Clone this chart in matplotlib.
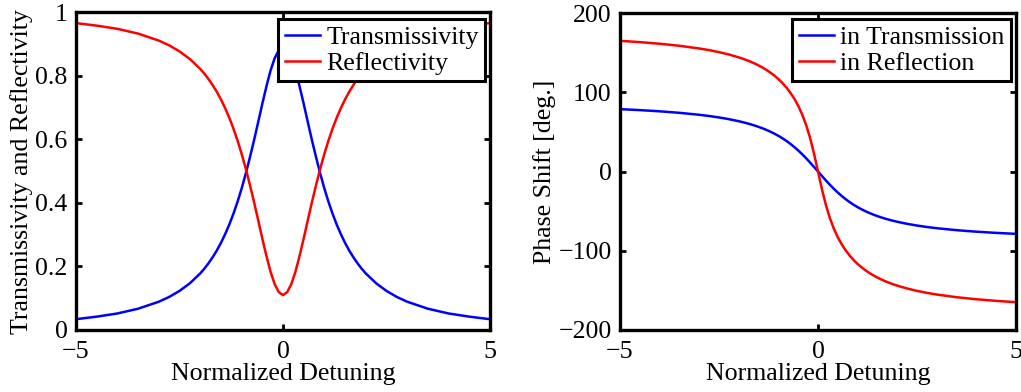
import matplotlib
matplotlib.use("Agg")
import matplotlib.pyplot as plt
from matplotlib.ticker import FuncFormatter

plt.rcParams['font.family'] = ['Liberation Serif', 'DejaVu Serif']

# Normalized detuning positions
detuning = [-5, -4.5, -4, -3.5, -3, -2.75, -2.5, -2.25,
            -2.0, -1.9, -1.8, -1.7, -1.6, -1.5, -1.4, -1.3, -1.2, -1.1,
            -1.0, -0.9, -0.8, -0.7, -0.6, -0.5, -0.4, -0.3, -0.2, -0.1,
            0.0,
            0.1, 0.2, 0.3, 0.4, 0.5, 0.6, 0.7, 0.8, 0.9, 1.0,
            1.1, 1.2, 1.3, 1.4, 1.5, 1.6, 1.7, 1.8, 1.9, 2.0,
            2.25, 2.5, 2.75, 3, 3.5, 4, 4.5, 5]

transmissivity = [0.034, 0.042, 0.052, 0.067, 0.089, 0.104, 0.123, 0.147,
                  0.178, 0.193, 0.210, 0.229, 0.250, 0.274, 0.301, 0.331, 0.365, 0.403,
                  0.445, 0.492, 0.543, 0.597, 0.654, 0.712, 0.767, 0.817, 0.856, 0.881,
                  0.890,
                  0.881, 0.856, 0.817, 0.767, 0.712, 0.654, 0.597, 0.543, 0.492, 0.445,
                  0.403, 0.365, 0.331, 0.301, 0.274, 0.250, 0.229, 0.210, 0.193, 0.178,
                  0.147, 0.123, 0.104, 0.089, 0.067, 0.052, 0.042, 0.034]

reflectivity = [0.966, 0.958, 0.948, 0.933, 0.911, 0.896, 0.877, 0.853,
                0.822, 0.807, 0.790, 0.771, 0.750, 0.726, 0.699, 0.669, 0.635, 0.597,
                0.555, 0.508, 0.457, 0.403, 0.346, 0.288, 0.233, 0.183, 0.144, 0.119,
                0.110,
                0.119, 0.144, 0.183, 0.233, 0.288, 0.346, 0.403, 0.457, 0.508, 0.555,
                0.597, 0.635, 0.669, 0.699, 0.726, 0.750, 0.771, 0.790, 0.807, 0.822,
                0.853, 0.877, 0.896, 0.911, 0.933, 0.948, 0.958, 0.966]

phase_transmission = [78.69, 77.47, 75.96, 74.05, 71.57, 70.02, 68.20, 66.04,
                      63.43, 62.24, 60.95, 59.53, 57.99, 56.31, 54.46, 52.43, 50.19, 47.73,
                      45.00, 41.99, 38.66, 34.99, 30.96, 26.57, 21.80, 16.70, 11.31, 5.71,
                      0.0,
                      -5.71, -11.31, -16.70, -21.80, -26.57, -30.96, -34.99, -38.66, -41.99, -45.00,
                      -47.73, -50.19, -52.43, -54.46, -56.31, -57.99, -59.53, -60.95, -62.24, -63.43,
                      -66.04, -68.20, -70.02, -71.57, -74.05, -75.96, -77.47, -78.69]

phase_reflection = [164.89, 163.25, 161.22, 158.63, 155.25, 153.14, 150.64, 147.64,
                    144.01, 142.33, 140.50, 138.48, 136.27, 133.83, 131.12, 128.10, 124.72, 120.94,
                    116.63, 111.74, 106.12, 99.61, 92.00, 82.99, 72.10, 58.80, 42.37, 22.48,
                    0.0,
                    -22.48, -42.37, -58.80, -72.10, -82.99, -92.00, -99.61, -106.12, -111.74, -116.63,
                    -120.94, -124.72, -128.10, -131.12, -133.83, -136.27, -138.48, -140.50, -142.33, -144.01,
                    -147.64, -150.64, -153.14, -155.25, -158.63, -161.22, -163.25, -164.89]

left_labels = ['Transmissivity', 'Reflectivity']
right_labels = ['in Transmission', 'in Reflection']

FS = 18.6
LW = 1.8
SPINE = 2.4


def signed(v, p):
    return ('\u2212%g' % -v) if v < 0 else '%g' % v


fig = plt.figure(figsize=(10.21, 3.92), dpi=100)
ax1 = fig.add_axes([76/1021, 62/392, 414/1021, 317.7/392])
ax2 = fig.add_axes([620/1021, 62/392, 396/1021, 317/392])


def style(ax):
    for s in ax.spines.values():
        s.set_linewidth(SPINE)
        s.set_color('black')
    ax.tick_params(direction='in', length=4, width=2, top=True, right=True,
                   labelsize=FS, pad=6)
    ax.tick_params(axis='x', pad=8)
    ax.set_xticks([-5, 0, 5])
    ax.set_xlim(-5, 5)
    ax.xaxis.set_major_formatter(FuncFormatter(signed))
    ax.set_xlabel('Normalized Detuning', fontsize=FS, labelpad=0)


ax1.plot(detuning, transmissivity, color='#0000ff', lw=LW, label=left_labels[0])
ax1.plot(detuning, reflectivity, color='#ff0000', lw=LW, label=left_labels[1])
style(ax1)
ax1.set_ylim(0, 1)
ax1.set_yticks([0, 0.2, 0.4, 0.6, 0.8, 1])
ax1.yaxis.set_major_formatter(FuncFormatter(lambda v, p: '%g' % v))
ax1.set_ylabel('Transmissivity and Reflectivity', fontsize=FS, labelpad=2)

ax2.plot(detuning, phase_transmission, color='#0000ff', lw=LW, label=right_labels[0])
ax2.plot(detuning, phase_reflection, color='#ff0000', lw=LW, label=right_labels[1])
style(ax2)
ax2.set_ylim(-200, 200)
ax2.set_yticks([-200, -100, 0, 100, 200])
ax2.yaxis.set_major_formatter(FuncFormatter(signed))
ax2.set_ylabel('Phase Shift [deg.]', fontsize=FS, labelpad=2)

for ax, anchor in ((ax1, (0.988, 0.978)), (ax2, (0.987, 0.981))):
    leg = ax.legend(loc='upper right', bbox_to_anchor=anchor, fontsize=FS,
                    frameon=True, fancybox=False, framealpha=1, edgecolor='black',
                    borderpad=0.25, labelspacing=0.12, handlelength=1.35,
                    handletextpad=0.25, borderaxespad=0.0)
    leg.get_frame().set_linewidth(2.2)

fig.savefig('out.png', dpi=100)
